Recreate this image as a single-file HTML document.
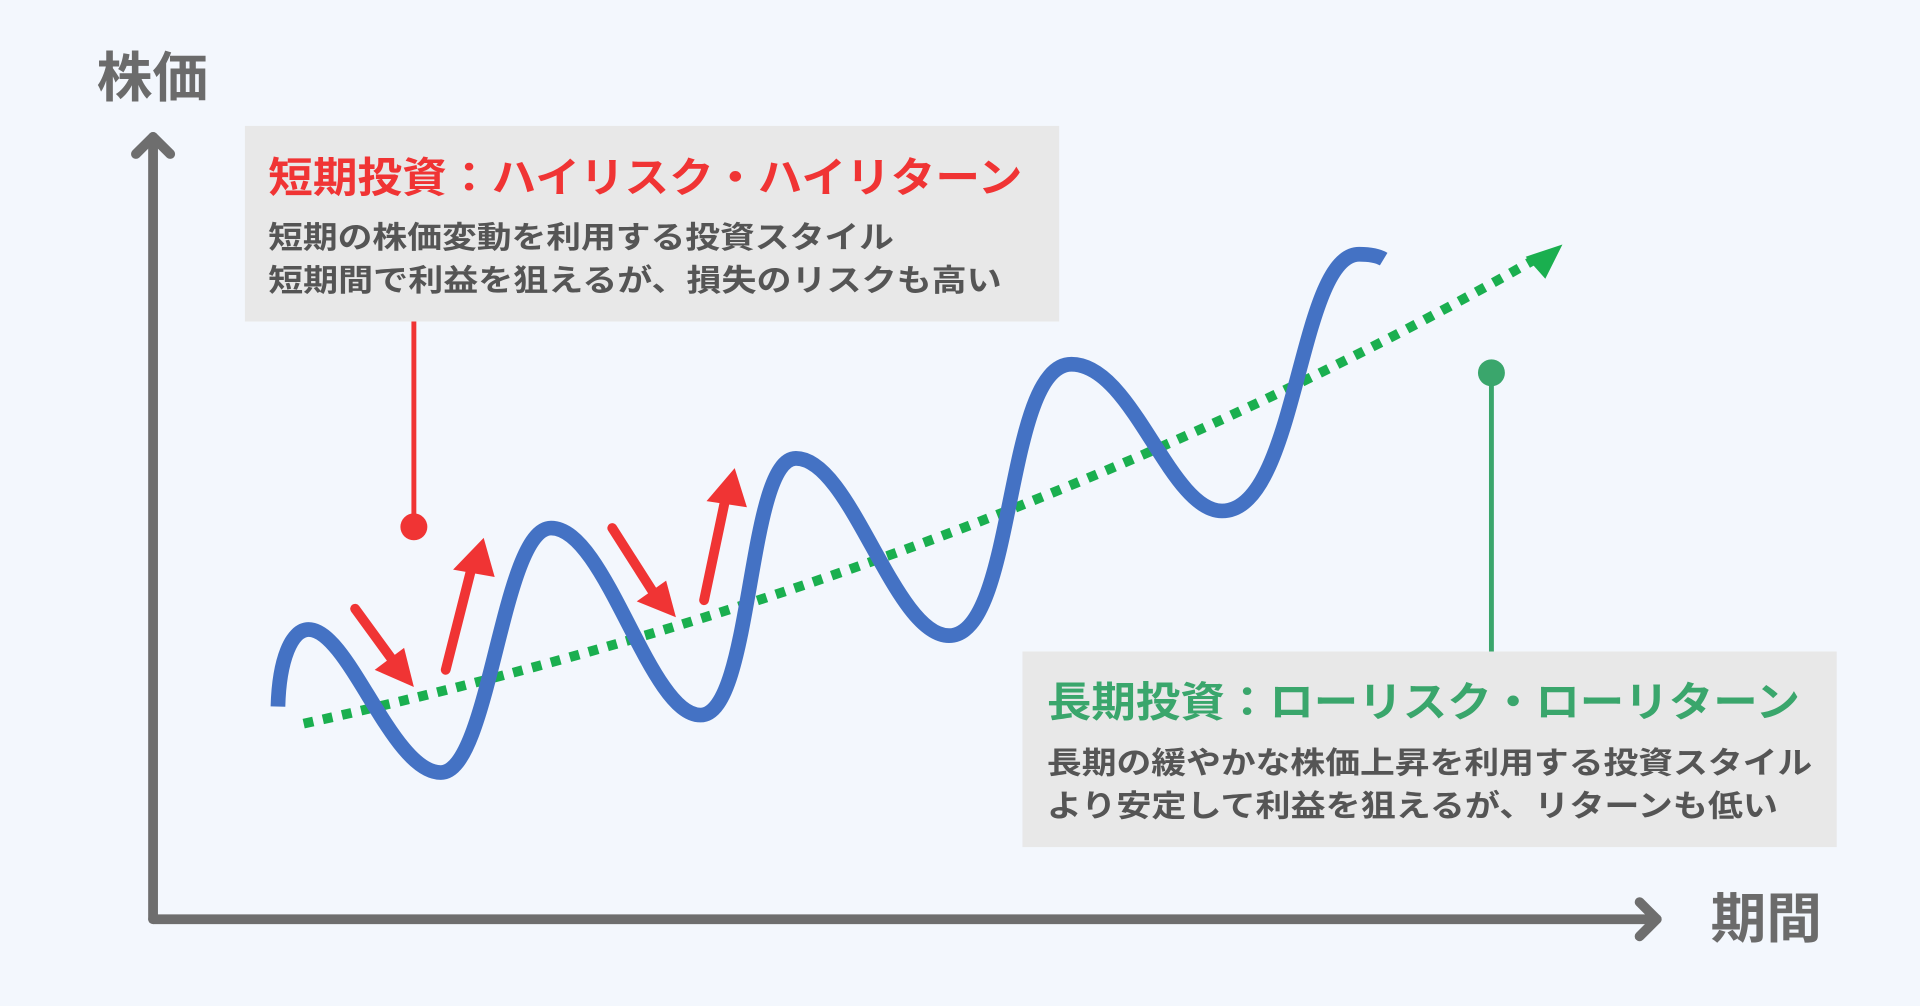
<!DOCTYPE html>
<html><head><meta charset="utf-8"><style>
html,body{margin:0;padding:0;background:#f3f7fd;}
svg{display:block;}
text{font-family:"Liberation Sans","Noto Sans CJK JP",sans-serif;font-weight:bold;}
</style></head><body>
<svg width="1920" height="1006" viewBox="0 0 1568 823" preserveAspectRatio="none" xmlns="http://www.w3.org/2000/svg">
<rect width="1568" height="823" fill="#f3f7fd"/>
<text x="79" y="79" font-size="44" fill="#6b6b6b" textLength="91" lengthAdjust="spacingAndGlyphs">株価</text>
<text x="1397" y="767" font-size="44" fill="#6b6b6b" textLength="91" lengthAdjust="spacingAndGlyphs">期間</text>
<g stroke="#6e6e6e" stroke-width="8" fill="none" stroke-linecap="round" stroke-linejoin="round">
<path d="M125,752 V112"/><path d="M111,126 L125,112 L139,126"/>
<path d="M125,752 H1353"/><path d="M1339,738 L1353,752 L1339,766"/>
</g>
<rect x="200" y="103" width="665" height="160" fill="#e8e8e8"/>
<text x="219" y="157" font-size="34" fill="#f03434" textLength="616" lengthAdjust="spacingAndGlyphs">短期投資：ハイリスク・ハイリターン</text>
<text x="219" y="203" font-size="25" fill="#555" textLength="511" lengthAdjust="spacingAndGlyphs">短期の株価変動を利用する投資スタイル</text>
<text x="219" y="238" font-size="25" fill="#555" textLength="599" lengthAdjust="spacingAndGlyphs">短期間で利益を狙えるが、損失のリスクも高い</text>
<path d="M338,263 V430" stroke="#f03434" stroke-width="4"/>
<circle cx="338" cy="431" r="11" fill="#f03434"/>
<rect x="835" y="533" width="665" height="160" fill="#e8e8e8"/>
<text x="855" y="586" font-size="34" fill="#3aa66c" textLength="615" lengthAdjust="spacingAndGlyphs">長期投資：ローリスク・ローリターン</text>
<text x="855" y="633" font-size="25" fill="#555" textLength="625" lengthAdjust="spacingAndGlyphs">長期の緩やかな株価上昇を利用する投資スタイル</text>
<text x="855" y="668" font-size="25" fill="#555" textLength="597" lengthAdjust="spacingAndGlyphs">より安定して利益を狙えるが、リターンも低い</text>
<path d="M1218,305 V533" stroke="#3aa66c" stroke-width="4"/>
<circle cx="1218" cy="305" r="11" fill="#3aa66c"/>
<path d="M248,592 Q800,470 1252,213" stroke="#1aaf4f" stroke-width="8" stroke-dasharray="8,8" fill="none"/>
<polygon points="1276,200 1246,210 1262,228" fill="#1aaf4f"/>
<path d="M227,578 C228,540 238,515 252,515 C285,515 320,632 360,632 C400,632 410,432 450,432 C495,432 530,585 572,585 C615,585 610,375 650,375 C695,375 730,520 775,520 C830,520 820,298 875,298 C925,298 955,418 998,418 C1060,418 1060,208 1110,208 C1118,208 1125,209 1130,212" stroke="#4472c4" stroke-width="12" fill="none"/>
<g stroke="#f03434" stroke-width="8" stroke-linecap="round">
<path d="M290,498 L322,542"/><path d="M500,432 L535,487"/>
<path d="M364,548 L385,465"/><path d="M575,491 L592,410"/>
</g>
<g fill="#f03434">
<polygon points="338,562 306,548 330,530"/>
<polygon points="552,505 520,492 544,475"/>
<polygon points="395,440 404,472 370,466"/>
<polygon points="600,383 610,415 577,410"/>
</g>
</svg>
</body></html>
